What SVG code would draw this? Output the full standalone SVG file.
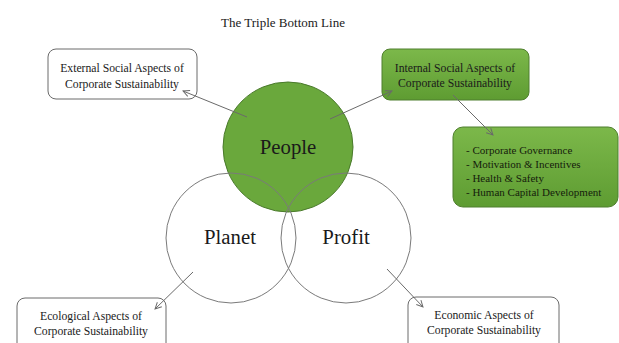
<svg xmlns="http://www.w3.org/2000/svg" width="619" height="343" viewBox="0 0 619 343">
  <style>
    text { font-family: "Liberation Serif", "Times New Roman", serif; fill: #1a1a1a; }
    .title { font-size: 13px; }
    .lbl { font-size: 11.7px; text-anchor: middle; }
    .big { font-size: 20.8px; text-anchor: middle; }
    .list { font-size: 11px; fill: #15200c; }
    .box { fill: #ffffff; stroke: #6a6a6a; stroke-width: 1; }
    .gbox { fill: url(#greenGrad); stroke: #4f7f2e; stroke-width: 1; }
    .ring { fill: none; stroke: #7a7a7a; stroke-width: 1; }
    .conn { stroke: #6a6a6a; stroke-width: 1; fill: none; marker-end: url(#arrow); }
  </style>
  <defs>
    <linearGradient id="greenGrad" x1="0" y1="0" x2="0" y2="1">
      <stop offset="0" stop-color="#7cb84a"/>
      <stop offset="1" stop-color="#5e9c32"/>
    </linearGradient>
    <marker id="arrow" viewBox="0 0 10 10" refX="9" refY="5" markerWidth="8" markerHeight="8" orient="auto" markerUnits="userSpaceOnUse">
      <path d="M1,1 L9,5 L1,9" fill="none" stroke="#6a6a6a" stroke-width="1.2"/>
    </marker>
  </defs>

  <rect width="619" height="343" fill="#ffffff"/>

  <text class="title" x="283" y="27" text-anchor="middle">The Triple Bottom Line</text>

  <!-- three pillars -->
  <g id="people">
    <circle cx="288" cy="147" r="65" fill="#6aa83c" stroke="#4a7a2c" stroke-width="1"/>
    <text class="big" x="288" y="154">People</text>
  </g>
  <g id="planet">
    <circle class="ring" cx="231" cy="238" r="65"/>
    <text class="big" x="230" y="244">Planet</text>
  </g>
  <g id="profit">
    <circle class="ring" cx="346" cy="238" r="65"/>
    <text class="big" x="346" y="244">Profit</text>
  </g>

  <!-- aspect boxes -->
  <g id="external">
    <rect class="box" x="48" y="49" width="149" height="50" rx="8"/>
    <text class="lbl" x="122" y="72">External Social Aspects of</text>
    <text class="lbl" x="122" y="88">Corporate Sustainability</text>
  </g>
  <g id="internal">
    <rect class="gbox" x="382" y="49" width="147" height="51" rx="8"/>
    <text class="lbl" x="455" y="72">Internal Social Aspects of</text>
    <text class="lbl" x="455" y="87">Corporate Sustainability</text>
  </g>
  <g id="internal-list">
    <rect class="gbox" x="453" y="127" width="165" height="80" rx="10"/>
    <text class="list" x="466" y="154">- Corporate Governance</text>
    <text class="list" x="466" y="168">- Motivation &amp; Incentives</text>
    <text class="list" x="466" y="182">- Health &amp; Safety</text>
    <text class="list" x="466" y="196">- Human Capital Development</text>
  </g>
  <g id="ecological">
    <rect class="box" x="17" y="298" width="149" height="60" rx="8"/>
    <text class="lbl" x="91" y="320">Ecological Aspects of</text>
    <text class="lbl" x="91" y="335">Corporate Sustainability</text>
  </g>
  <g id="economic">
    <rect class="box" x="408" y="297" width="151" height="60" rx="8"/>
    <text class="lbl" x="484" y="319">Economic Aspects of</text>
    <text class="lbl" x="484" y="334">Corporate Sustainability</text>
  </g>

  <!-- connectors -->
  <g id="connectors">
    <line class="conn" x1="247" y1="117" x2="183" y2="91"/>
    <line class="conn" x1="330" y1="119" x2="392" y2="91"/>
    <line class="conn" x1="453" y1="95" x2="493" y2="135"/>
    <line class="conn" x1="193" y1="272" x2="155" y2="309"/>
    <line class="conn" x1="387" y1="269" x2="423" y2="307"/>
  </g>
</svg>
